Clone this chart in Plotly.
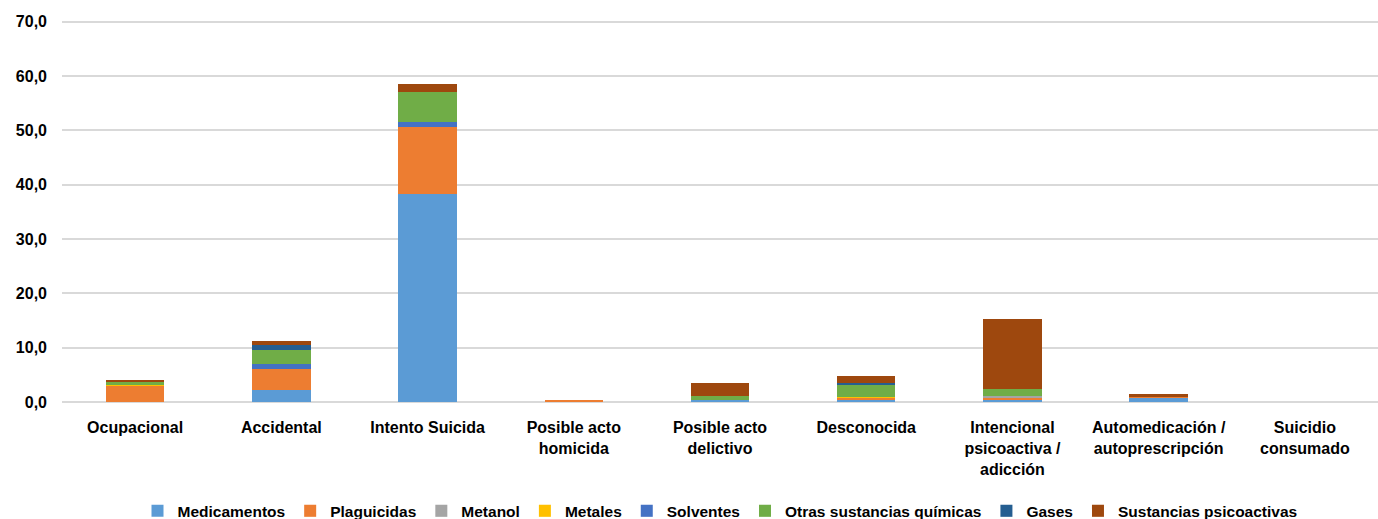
import plotly.graph_objects as go

categories = ["Ocupacional", "Accidental", "Intento Suicida", "Posible acto<br>homicida",
              "Posible acto<br>delictivo", "Desconocida", "Intencional<br>psicoactiva /<br>adicción",
              "Automedicación /<br>autoprescripción", "Suicidio<br>consumado"]

medicamentos = [0.0, 2.27, 38.3, 0.0, 0.4, 0.4, 0.55, 0.8, 0.0]
plaguicidas = [3.0, 3.75, 12.3, 0.3, 0.0, 0.43, 0.25, 0.1, 0.0]
metanol = [0.0, 0.0, 0.0, 0.0, 0.0, 0.0, 0.3, 0.0, 0.0]
metales = [0.15, 0.0, 0.0, 0.0, 0.0, 0.18, 0.0, 0.0, 0.0]
solventes = [0.0, 0.92, 0.98, 0.0, 0.0, 0.0, 0.0, 0.0, 0.0]
otras = [0.55, 2.64, 5.4, 0.0, 0.74, 2.27, 1.29, 0.0, 0.0]
gases = [0.15, 0.92, 0.0, 0.0, 0.0, 0.25, 0.0, 0.0, 0.0]
psicoactivas = [0.2, 0.8, 1.47, 0.0, 2.4, 1.23, 12.9, 0.55, 0.0]

series = [
    ("Medicamentos", medicamentos, "#5B9BD5"),
    ("Plaguicidas", plaguicidas, "#ED7D31"),
    ("Metanol", metanol, "#A5A5A5"),
    ("Metales", metales, "#FFC000"),
    ("Solventes", solventes, "#4472C4"),
    ("Otras sustancias químicas", otras, "#70AD47"),
    ("Gases", gases, "#255E91"),
    ("Sustancias psicoactivas", psicoactivas, "#9E480E"),
]

font_family = "Liberation Sans, Arial, sans-serif"

fig = go.Figure()
for name, vals, color in series:
    fig.add_trace(go.Bar(x=categories, y=vals, name=name,
                         marker=dict(color=color, line=dict(width=0))))

fig.update_layout(
    barmode="stack",
    bargap=0.6,
    width=1378, height=519,
    margin=dict(l=62, r=0, t=20, b=117, autoexpand=False),
    paper_bgcolor="white", plot_bgcolor="white",
    separators=",.",
    font=dict(family=font_family, size=16, color="#000000"),
    showlegend=True,
    legend=dict(orientation="h", x=0.5, xanchor="center", y=-0.286, yanchor="middle",
                traceorder="normal",
                font=dict(family=font_family, size=15.5, color="#000000", weight="bold"),
                itemwidth=30, tracegroupgap=0),
    xaxis=dict(showgrid=False, showline=False, zeroline=False, ticks="", automargin=False,
               tickfont=dict(family=font_family, size=16, weight="bold"), ticklabelstandoff=14),
    yaxis=dict(range=[0, 70.3], tickvals=[0, 10, 20, 30, 40, 50, 60, 70], tickformat=".1f",
               showgrid=True, automargin=False,
               gridcolor="#D9D9D9", gridwidth=1.5, zeroline=True, zerolinecolor="#D9D9D9",
               zerolinewidth=1.5, showline=False, ticks="",
               tickfont=dict(family=font_family, size=16, weight="bold"), ticklabelstandoff=14),
)

fig.write_html("out.html", config={"displayModeBar": False},
               post_script="document.body.style.margin='0';")
